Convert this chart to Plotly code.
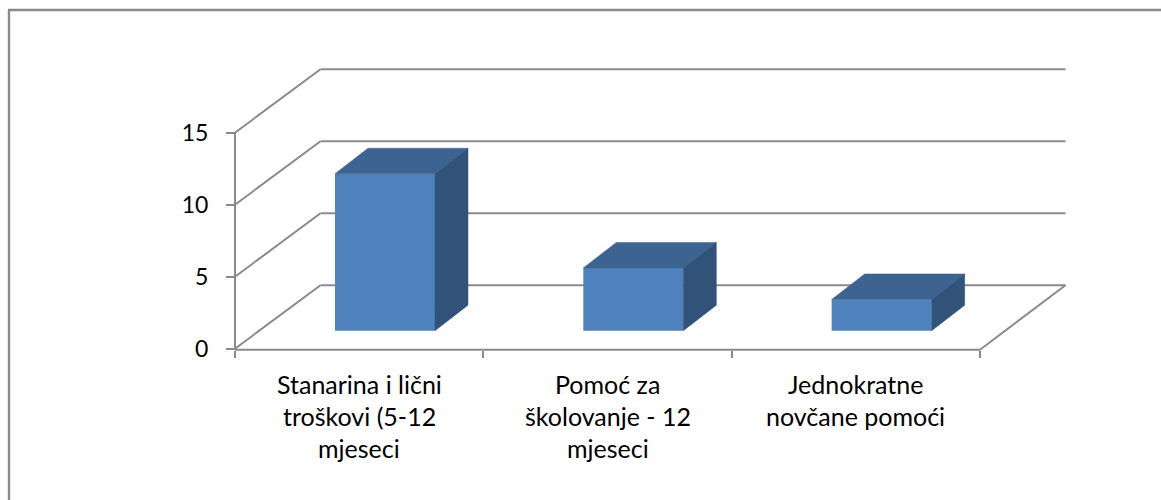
import plotly.graph_objects as go

# Data
category_lines = [
    ["Stanarina i lični", "troškovi (5-12", "mjeseci"],
    ["Pomoć za", "školovanje - 12", "mjeseci"],
    ["Jednokratne", "novčane pomoći"],
]
values = [10.9, 4.36, 2.17]
y_ticks = [0, 5, 10, 15]
n_cat = len(values)

# Oblique projection parameters (axis units)
W, H = 1161, 500
X0_PX, X3_PX, Y0_PX, PX_PER_UNIT = 235, 980, 348.7, 14.4
PX_PER_CAT = (X3_PX - X0_PX) / n_cat
floor_dx, floor_dy = 85.5 / PX_PER_CAT, 63.4 / PX_PER_UNIT
bar_dx, bar_dy = 33 / PX_PER_CAT, 25.5 / PX_PER_UNIT
bar_shift_x, bar_base = 0.104, 1.25
bar_width = 100 / PX_PER_CAT

LINE = "#8A8A8A"
FRONT, TOP, SIDE = "#4F81BD", "#3D6390", "#325379"
FONT = "Lato"
FS_CAT = 25
FS_TICK = 23

fig = go.Figure()

# Bars: front faces
centers = [i + 0.5 + bar_shift_x for i in range(n_cat)]
fig.add_trace(go.Bar(x=centers, y=values, base=[bar_base] * n_cat, width=bar_width,
                     marker=dict(color=FRONT, line=dict(width=0)), showlegend=False))

# Bars: top and side faces
for c, v in zip(centers, values):
    l, r = c - bar_width / 2, c + bar_width / 2
    t, b = bar_base + v, bar_base
    fig.add_trace(go.Scatter(x=[l, r, r + bar_dx, l + bar_dx, l],
                             y=[t, t, t + bar_dy, t + bar_dy, t],
                             fill="toself", fillcolor=TOP, mode="lines",
                             line=dict(width=0.5, color=TOP), showlegend=False))
    fig.add_trace(go.Scatter(x=[r, r + bar_dx, r + bar_dx, r, r],
                             y=[t, t + bar_dy, b + bar_dy, b, t],
                             fill="toself", fillcolor=SIDE, mode="lines",
                             line=dict(width=0.5, color=SIDE), showlegend=False))

# Walls, gridlines and floor
shapes = []
def seg(x0, y0, x1, y1):
    shapes.append(dict(type="line", xref="x", yref="y", x0=x0, y0=y0, x1=x1, y1=y1,
                       layer="below", line=dict(color=LINE, width=2)))
for v in y_ticks:
    seg(0, v, floor_dx, v + floor_dy)
    seg(floor_dx, v + floor_dy, n_cat + floor_dx, v + floor_dy)
seg(0, 0, 0, y_ticks[-1])
seg(0, -0.07, n_cat, -0.07)
seg(n_cat, -0.07, n_cat + floor_dx, floor_dy)

# Outer frame (left and top edges only)
for x0, y0, x1, y1 in [(9 / W, 0, 9 / W, 1 - 10 / H), (8 / W, 1 - 10 / H, 1, 1 - 10 / H)]:
    shapes.append(dict(type="line", xref="paper", yref="paper", x0=x0, y0=y0, x1=x1, y1=y1,
                       line=dict(color=LINE, width=2.4)))

# Category labels, one annotation per line
annotations = []
for i, lines in enumerate(category_lines):
    for j, txt in enumerate(lines):
        annotations.append(dict(text=txt, x=i + 0.5, xref="x",
                                y=1 - (384 + 32 * j) / H, yref="paper",
                                xanchor="center", yanchor="middle", showarrow=False,
                                font=dict(family=FONT, size=FS_CAT, color="#000000")))

fig.update_layout(
    width=W, height=H, margin=dict(l=0, r=0, t=0, b=0),
    paper_bgcolor="white", plot_bgcolor="white",
    barmode="overlay", showlegend=False,
    shapes=shapes, annotations=annotations,
    xaxis=dict(range=[-X0_PX / PX_PER_CAT, (W - X0_PX) / PX_PER_CAT],
               anchor="free", position=1 - 349.7 / H,
               showgrid=False, zeroline=False, showline=False,
               tickmode="array", tickvals=[i for i in range(n_cat + 1)],
               ticktext=[""] * (n_cat + 1),
               ticks="outside", ticklen=7, tickwidth=2, tickcolor=LINE),
    yaxis=dict(range=[-(H - Y0_PX) / PX_PER_UNIT, Y0_PX / PX_PER_UNIT],
               anchor="free", position=X0_PX / W,
               showgrid=False, zeroline=False, showline=False,
               tickmode="array", tickvals=y_ticks,
               ticks="outside", ticklen=9, tickwidth=2, tickcolor=LINE,
               ticklabelstandoff=13,
               tickfont=dict(family=FONT, size=FS_TICK, color="#000000")),
)

fig.write_html("out.html", post_script="document.body.style.margin='0';",
               config={"displayModeBar": False})
